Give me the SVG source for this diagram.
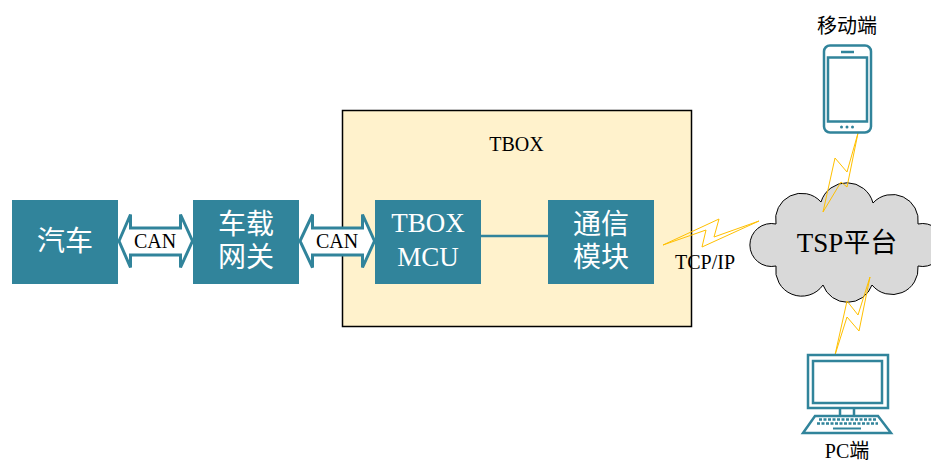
<svg xmlns="http://www.w3.org/2000/svg" width="931" height="461" viewBox="0 0 931 461">
<style>
text{font-family:"Liberation Serif","Noto Sans CJK SC",serif;text-anchor:middle}
.box{fill:#31849b}
.w{fill:#fff;font-size:27px}
.c{fill:#fff;font-size:28px}
.k{fill:#000;font-size:20px}
.ln{fill:none;stroke:#31849b;stroke-width:2.5}
.arr{fill:#fff;stroke:#31849b;stroke-width:3;stroke-linejoin:miter}
.bolt{fill:none;stroke:#ffc000;stroke-width:1}
</style>
<rect width="931" height="461" fill="#fff"/>
<g id="tbox">
<rect x="342.500" y="110.500" width="349" height="216" fill="#fff2cc" stroke="#000" stroke-width="1.500"/>
<text class="k" x="516.500" y="151">TBOX</text>
</g>
<g id="connectors">
<path class="arr" d="M119 241L130.500 214.500V228H180.500V214.500L192.500 241L180.500 267.500V255H130.500V267.500Z"/>
<path class="arr" d="M300 241L312.500 214.500V228H362.500V214.500L374.500 241L362.500 267.500V255H312.500V267.500Z"/>
<line x1="481" y1="236" x2="548" y2="236" stroke="#31849b" stroke-width="2.500"/>
</g>
<g id="can1"><text class="k" x="155" y="248">CAN</text></g>
<g id="can2"><text class="k" x="337" y="248">CAN</text></g>
<g id="car"><rect class="box" x="12" y="200" width="106" height="84"/><text class="c" x="65" y="251">汽车</text></g>
<g id="gateway"><rect class="box" x="193" y="200" width="106" height="84"/><text class="c" x="246" y="234">车载</text><text class="c" x="246" y="267">网关</text></g>
<g id="mcu"><rect class="box" x="375" y="200" width="106" height="84"/><text class="w" x="428" y="232">TBOX</text><text class="w" x="428" y="266">MCU</text></g>
<g id="comm"><rect class="box" x="548" y="200" width="106" height="84"/><text class="c" x="601" y="234">通信</text><text class="c" x="601" y="267">模块</text></g>
<g id="cloud">
<path d="M776 224A21.500 21.500 0 1 0 776 266A26 26 0 0 0 823 285A26 26 0 0 0 872 285A26 26 0 0 0 918 266A21.500 21.500 0 1 0 918 224A26 26 0 0 0 873 203A27 27 0 0 0 821 202A26 26 0 0 0 776 224Z" fill="#d9d9d9" stroke="#000" stroke-width="1"/>
<text x="847" y="252" font-size="27" fill="#000">TSP平台</text>
</g>
<g id="tcpip"><text class="k" x="705" y="269">TCP/IP</text></g>
<g id="bolts">
<polygon class="bolt" points="663,245 719,219 714,237 759,221 702,247 706,230"/>
<polygon class="bolt" points="858,133 847,172 835,158 823,212 841,182 847,187"/>
<polygon class="bolt" points="870,277 858,315 847,301 835,355 847,317 859,331"/>
</g>
<g id="mobile">
<text class="k" x="847" y="33">移动端</text>
<rect class="ln" x="824" y="45.500" width="47" height="87" rx="6"/>
<rect class="ln" x="828" y="57.500" width="39" height="64"/>
<line class="ln" x1="841" y1="52" x2="854" y2="52"/>
<g fill="#31849b"><circle cx="841.500" cy="127" r="1.500"/><circle cx="847" cy="127" r="1.500"/><circle cx="852.500" cy="127" r="1.500"/></g>
</g>
<g id="pc">
<rect class="ln" x="808" y="355" width="80" height="53"/>
<rect class="ln" x="813" y="361" width="69" height="42"/>
<path class="ln" d="M840 408V416M854 408V416"/>
<path class="ln" d="M815 416H878L891 433H803Z"/>
<path d="M819 419.500H876M817 423.500H878" fill="none" stroke="#31849b" stroke-width="2.500" stroke-dasharray="3 1.500"/>
<line x1="833" y1="428.500" x2="861" y2="428.500" stroke="#31849b" stroke-width="2"/>
<text class="k" x="847" y="458">PC端</text>
</g>
</svg>
